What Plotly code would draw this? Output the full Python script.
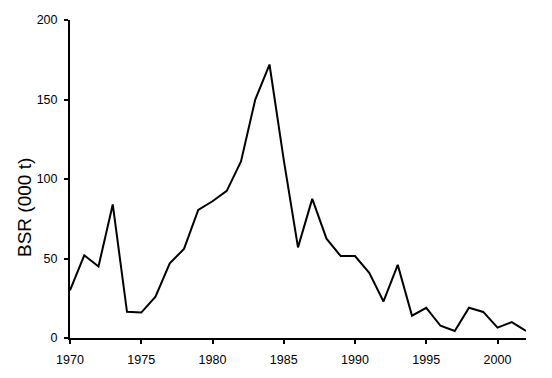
import plotly.graph_objects as go

years = list(range(1970, 2003))
bsr = [30, 52, 45, 84, 16.5, 16, 26, 47, 56, 80.5, 86, 92.5, 111, 150, 172,
       112, 57, 87.5, 62.5, 51.5, 51.5, 41, 23, 46, 14, 19, 7.7, 4.4, 19,
       16.4, 6.5, 10, 4.4]
y_ticks = [0, 50, 100, 150, 200]
x_ticks = [1970, 1975, 1980, 1985, 1990, 1995, 2000]
y_title = "BSR (000 t)"

fig = go.Figure(go.Scatter(x=years, y=bsr, mode="lines",
                           line=dict(color="black", width=2)))

fig.update_layout(
    width=552, height=378,
    margin=dict(l=70, r=26, t=20, b=40),
    paper_bgcolor="white", plot_bgcolor="white",
    showlegend=False,
    font=dict(family="Liberation Sans, Arial, sans-serif", size=12.5, color="black"),
)
fig.add_annotation(text=y_title, textangle=-90, xref="paper", yref="paper",
                   x=-0.1, y=0.41, xanchor="center", yanchor="middle",
                   showarrow=False, font=dict(size=19))
fig.update_xaxes(range=[1970, 2002], tickvals=x_ticks, showgrid=False,
                 zeroline=False, showline=True, linecolor="black", linewidth=2,
                 ticks="outside", ticklen=4, tickwidth=2, tickcolor="black",
                 ticklabelstandoff=5)
fig.update_yaxes(range=[0, 200], tickvals=y_ticks, showgrid=False,
                 zeroline=False, showline=True, linecolor="black", linewidth=2,
                 ticks="outside", ticklen=4, tickwidth=2, tickcolor="black",
                 ticklabelstandoff=4)

fig.write_html("out.html")
